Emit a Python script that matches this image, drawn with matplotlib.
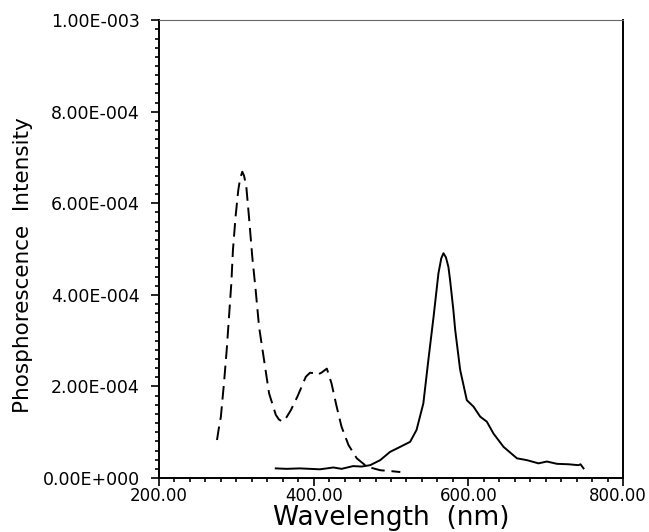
import numpy as np
import matplotlib
matplotlib.use("Agg")
import matplotlib.pyplot as plt
from matplotlib.ticker import MultipleLocator, FuncFormatter

# excitation spectrum (dashed)
exc_nm = [275, 277, 280, 284, 287.5, 290.5, 293.5, 295.6, 299, 302.5, 305, 307.7,
          310, 312.9, 316.3, 320.6, 325, 329.4, 335.8, 342.3, 351, 355, 359.6,
          365, 370.4, 379, 389.8, 395.3, 400, 404, 410, 417, 423, 429.7, 436,
          445, 455.7, 468.7, 485.9, 500, 512]
exc_val = [0.083, 0.105, 0.134, 0.207, 0.279, 0.352, 0.425, 0.498, 0.571, 0.629,
           0.655, 0.669, 0.660, 0.636, 0.571, 0.483, 0.410, 0.330, 0.258, 0.185,
           0.138, 0.128, 0.123, 0.133, 0.148, 0.178, 0.221, 0.230, 0.229, 0.225,
           0.230, 0.239, 0.207, 0.156, 0.112, 0.072, 0.043, 0.025, 0.017, 0.015,
           0.013]

# phosphorescence emission (solid)
em_nm = [351, 365, 382, 395, 408, 417, 425.5, 436, 451, 462, 473, 486, 498.7,
         511.8, 524.7, 533, 541.8, 548.3, 555, 561.3, 565, 567.8, 571, 574.2,
         576.4, 580.6, 583, 589.4, 598, 606.6, 615.3, 623.9, 632.5, 645.5,
         662.8, 675.7, 690.7, 701.5, 714.5, 729.5, 742.4, 745, 748.9]
em_val = [0.021, 0.020, 0.021, 0.020, 0.019, 0.021, 0.023, 0.020, 0.026, 0.025,
          0.028, 0.039, 0.057, 0.068, 0.079, 0.105, 0.163, 0.258, 0.352, 0.447,
          0.480, 0.491, 0.482, 0.461, 0.432, 0.367, 0.323, 0.236, 0.170, 0.156,
          0.134, 0.123, 0.097, 0.068, 0.043, 0.039, 0.032, 0.036, 0.031, 0.030,
          0.028, 0.030, 0.021]

x_max = 800

exc_val = np.array(exc_val) * 1e-3
em_val = np.array(em_val) * 1e-3

plt.rcParams['font.family'] = ['DejaVu Sans']

fig = plt.figure(figsize=(6.49, 5.32), dpi=100)
ax = fig.add_axes([0.245, 0.1015, 0.715, 0.8605])

ax.plot(exc_nm, exc_val, color='black', lw=1.4, dashes=(7, 3.5))
ax.plot(em_nm, em_val, color='black', lw=1.4)

ax.set_xlim(200, x_max)
ax.set_ylim(0, 1e-3)
ax.xaxis.set_major_locator(MultipleLocator(200))
ax.xaxis.set_minor_locator(MultipleLocator(20))
ax.yaxis.set_major_locator(MultipleLocator(2e-4))
ax.yaxis.set_minor_locator(MultipleLocator(2e-5))
# the last label is drawn by hand below, nudged left so it stays on the page
ax.xaxis.set_major_formatter(
    FuncFormatter(lambda v, p: "" if v >= x_max else f"{v:.2f}"))


def sci(v, p):
    m, e = f"{v:.2E}".split("E")
    sign = e[0]
    return f"{m}E{sign}{abs(int(e)):03d}"


ax.yaxis.set_major_formatter(FuncFormatter(sci))

ax.tick_params(which='both', direction='out', width=1.2, colors='black')
ax.tick_params(which='major', length=5.8, labelsize=12.5)
ax.tick_params(which='minor', length=3)
ax.tick_params(axis='y', which='major', pad=8)
ax.tick_params(axis='x', which='major', pad=0.5, labelsize=12)
for s in ['left', 'bottom', 'right']:
    ax.spines[s].set_linewidth(1.4)
ax.spines['top'].set_linewidth(0.8)
ax.spines['top'].set_color('0.4')

ax.annotate(f"{x_max:.2f}", xy=(x_max, 0), xycoords=('data', 'axes fraction'),
            xytext=(-4, -6.3), textcoords='offset points',
            ha='center', va='top', fontsize=12)

ax.set_xlabel("Wavelength  (nm)", fontsize=19, va='center')
ax.xaxis.set_label_coords(0.5, -0.088)
ax.set_ylabel("Phosphorescence  Intensity", fontsize=15.5, va='center')
ax.yaxis.set_label_coords(-0.293, 0.465)

fig.savefig("out.png", dpi=100)
